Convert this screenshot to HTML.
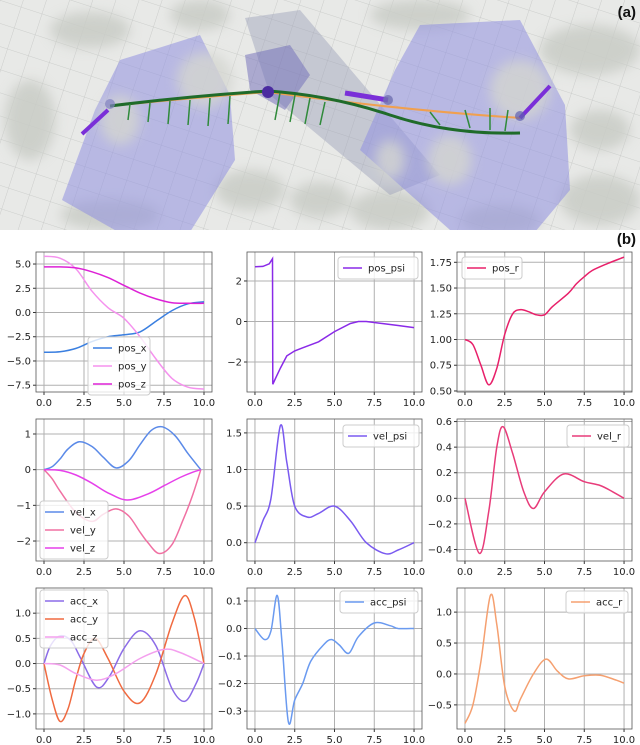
<!DOCTYPE html>
<html><head><meta charset="utf-8">
<style>
html,body{margin:0;padding:0;background:#fff;}
body{width:640px;height:745px;position:relative;overflow:hidden;font-family:"DejaVu Sans","Liberation Sans",sans-serif;}
#scene{position:absolute;left:0;top:0;width:640px;height:230px;overflow:hidden;background:#e4e5e3;}
#plots{position:absolute;left:0;top:0;}
.lbl{position:absolute;font-weight:bold;font-size:15px;font-family:"Liberation Sans",sans-serif;color:#111;}
</style></head><body>
<div id="scene">
<svg width="640" height="230">
<defs>
<pattern id="grid" width="22" height="22" patternUnits="userSpaceOnUse" patternTransform="rotate(18)">
<path d="M22 0L0 0 0 22" fill="none" stroke="#c4c6c4" stroke-width="0.8"/>
</pattern>
<filter id="blur"><feGaussianBlur stdDeviation="6"/></filter>
</defs>
<rect width="640" height="230" fill="#e8e9e7"/>
<rect width="640" height="230" fill="url(#grid)"/>
<g filter="url(#blur)" fill="#c9ccc6" opacity="0.85">
<ellipse cx="90" cy="30" rx="40" ry="18"/><ellipse cx="200" cy="15" rx="30" ry="15"/>
<ellipse cx="420" cy="15" rx="50" ry="15"/><ellipse cx="590" cy="50" rx="50" ry="25"/>
<ellipse cx="600" cy="200" rx="40" ry="25"/><ellipse cx="390" cy="210" rx="40" ry="20"/>
<ellipse cx="110" cy="215" rx="50" ry="15"/><ellipse cx="30" cy="120" rx="25" ry="40"/>
<ellipse cx="250" cy="190" rx="35" ry="20"/><ellipse cx="500" cy="220" rx="40" ry="15"/>
<ellipse cx="320" cy="200" rx="30" ry="18"/><ellipse cx="600" cy="130" rx="30" ry="20"/>
</g>
<g>
<polygon points="245,18 300,10 440,175 390,195 270,95" fill="#9b9fb8" opacity="0.45"/>
<polygon points="62,200 95,110 120,60 200,35 230,95 235,160 185,240 150,250" fill="#8f8fe0" opacity="0.55"/>
<polygon points="360,150 395,70 420,25 520,20 565,105 570,190 520,250 450,230" fill="#8f8fe0" opacity="0.55"/>
<polygon points="245,55 290,45 310,75 285,110 250,90" fill="#6e6ab8" opacity="0.5"/>
</g>
<g filter="url(#blur)" fill="#d4d6d0" opacity="0.8">
<ellipse cx="205" cy="80" rx="28" ry="28"/><ellipse cx="520" cy="90" rx="30" ry="30"/>
<ellipse cx="450" cy="160" rx="22" ry="25"/><ellipse cx="390" cy="160" rx="15" ry="20"/>
<ellipse cx="120" cy="120" rx="20" ry="25"/>
</g>
<g>
<path d="M110,106 Q190,98 268,92" stroke="#f0a050" stroke-width="2" fill="none"/>
<path d="M268,92 Q400,110 520,118" stroke="#f0a050" stroke-width="2" fill="none"/>
<path d="M110,106 Q190,96 268,91 Q330,95 390,115 Q450,135 520,133" stroke="#1f6b2a" stroke-width="3" fill="none"/>
<g stroke="#2f8a3a" stroke-width="1.5">
<line x1="130" y1="104" x2="128" y2="120"/><line x1="150" y1="103" x2="148" y2="122"/><line x1="170" y1="101" x2="168" y2="124"/><line x1="190" y1="100" x2="188" y2="125"/><line x1="210" y1="98" x2="208" y2="126"/><line x1="230" y1="96" x2="228" y2="124"/>
<line x1="280" y1="93" x2="275" y2="120"/><line x1="295" y1="95" x2="290" y2="122"/><line x1="310" y1="98" x2="305" y2="124"/><line x1="325" y1="102" x2="320" y2="125"/>
<line x1="440" y1="125" x2="430" y2="112"/><line x1="470" y1="128" x2="465" y2="110"/><line x1="490" y1="130" x2="490" y2="108"/><line x1="505" y1="131" x2="508" y2="110"/>
</g>
<line x1="108" y1="110" x2="82" y2="134" stroke="#7a2fd8" stroke-width="4"/>
<line x1="520" y1="118" x2="550" y2="86" stroke="#7a2fd8" stroke-width="4"/>
<line x1="388" y1="100" x2="345" y2="93" stroke="#7a2fd8" stroke-width="5"/>
<circle cx="268" cy="92" r="6" fill="#4a2aa0"/>
<circle cx="388" cy="100" r="5" fill="#7070b0" opacity="0.8"/>
<circle cx="110" cy="104" r="5" fill="#8080c0" opacity="0.7"/>
<circle cx="520" cy="116" r="5" fill="#6060b0" opacity="0.7"/>
</g>
</svg>
<div class="lbl" style="right:4px;top:4px">(a)</div>
</div>
<div class="lbl" style="right:4px;top:231px">(b)</div>
<svg id="plots" width="640" height="745"></svg>
<script>
// ---- data ----
const xTicks=[0,2.5,5,7.5,10];
const xTickLabels=["0.0","2.5","5.0","7.5","10.0"];

const posX_t=[0,1,2,3,4,5,6,7,8,9,10];
const posX_v=[-4.1,-4.05,-3.7,-3.0,-2.5,-2.3,-2.0,-0.9,0.2,0.9,1.1];
const posY_t=[0,1,2,3,4,5,6,7,8,9,10];
const posY_v=[5.8,5.6,4.5,2.2,0.5,-0.6,-2.5,-4.8,-6.8,-7.7,-7.9];
const posZ_t=[0,1,2,3,4,5,6,7,8,9,10];
const posZ_v=[4.7,4.7,4.6,4.2,3.6,2.8,2.0,1.4,1.0,0.95,0.95];
const posPsi_t=[0,0.5,0.9,1.1,1.12,1.3,1.6,2.0,2.5,3,4,5,6,6.5,7,8,9,10];
const posPsi_v=[2.7,2.72,2.85,3.1,-3.1,-2.8,-2.3,-1.7,-1.45,-1.3,-1.0,-0.5,-0.1,0.0,0.0,-0.1,-0.2,-0.3];
const posR_t=[0,0.5,1,1.5,2,2.5,3,3.5,4,4.5,5,5.5,6.5,7,7.5,8,9,10];
const posR_v=[1.0,0.95,0.75,0.56,0.72,1.05,1.25,1.29,1.27,1.24,1.24,1.32,1.45,1.54,1.61,1.67,1.74,1.8];

const velX_t=[0,0.5,1,1.5,2.2,3,3.7,4.5,5.3,6,6.7,7.4,8.2,9,9.8];
const velX_v=[0,0.08,0.3,0.58,0.78,0.65,0.35,0.05,0.25,0.7,1.1,1.2,0.95,0.45,0];
const velY_t=[0,0.5,1,2,3,3.7,4.5,5.3,6,6.5,7.2,8,8.7,9.3,9.8];
const velY_v=[0,-0.25,-0.6,-1.2,-1.45,-1.25,-1.1,-1.3,-1.75,-2.05,-2.35,-2.1,-1.4,-0.7,0];
const velZ_t=[0,1,2,3,4,5.2,6.5,7.5,8.5,9.3,9.8];
const velZ_v=[0,-0.02,-0.15,-0.38,-0.65,-0.85,-0.68,-0.45,-0.22,-0.07,0];
const velPsi_t=[0,0.5,1,1.6,2,2.5,3.3,4,5,6,7,8.2,9,10];
const velPsi_v=[0,0.3,0.6,1.6,1.1,0.5,0.35,0.4,0.5,0.3,0.0,-0.15,-0.1,0.0];
const velR_t=[0,0.9,1.5,2,2.4,3,3.7,4.3,5,6.2,7.5,8.5,9.3,10];
const velR_v=[0,-0.43,-0.1,0.4,0.56,0.35,0.05,-0.08,0.05,0.19,0.13,0.1,0.05,0];

const accX_t=[0,0.4,1,1.7,2.3,3.3,4.1,5,6,7,8,8.8,9.5,10];
const accX_v=[0,0.35,0.55,0.45,0.1,-0.47,-0.25,0.3,0.65,0.35,-0.5,-0.75,-0.4,0];
const accY_t=[0,0.5,1,1.5,2,2.5,3.2,4,5,6,7,8,8.8,9.4,10];
const accY_v=[0,-0.7,-1.15,-0.9,-0.3,0.2,0.5,0.1,-0.55,-0.78,-0.2,0.8,1.35,0.9,0];
const accZ_t=[0,1,2,3.3,4.5,6,7.5,8.5,10];
const accZ_v=[0,-0.03,-0.2,-0.33,-0.2,0.1,0.28,0.22,0];
const accPsi_t=[0,0.6,1,1.4,1.7,2.1,2.5,3,3.5,4.3,4.8,5.3,5.9,6.5,7.5,8.5,9,10];
const accPsi_v=[0,-0.04,-0.01,0.12,-0.05,-0.34,-0.26,-0.2,-0.12,-0.06,-0.04,-0.06,-0.09,-0.03,0.02,0.01,0,0];
const accR_t=[0,0.5,1,1.6,2,2.5,3.1,3.5,4.3,5.1,5.8,6.5,7.5,8.5,9.5,10];
const accR_v=[-0.8,-0.5,0.2,1.27,0.8,-0.2,-0.6,-0.4,0.0,0.24,0.05,-0.08,-0.03,-0.02,-0.1,-0.15];

const yTicks_pos=[-7.5,-5,-2.5,0,2.5,5];
const yTicks_psi=[-2,0,2];
const yTicks_r=[0.5,0.75,1.0,1.25,1.5,1.75];
const yTicks_vel=[-2,-1,0,1];
const yTicks_velPsi=[0,0.5,1.0,1.5];
const yTicks_velR=[-0.4,-0.2,0,0.2,0.4,0.6];
const yTicks_acc=[-1,-0.5,0,0.5,1];
const yTicks_accPsi=[-0.3,-0.2,-0.1,0,0.1];
const yTicks_accR=[-0.5,0,0.5,1];

// ---- layout ----
const cols=[[36,212],[247,422],[457,632]];
const rows=[[252,392],[419,561],[588,729]];
const panels=[
 {name:'pos-xyz-plot',c:0,r:0,ymin:-8.2,ymax:6.24,yt:yTicks_pos,dec:1,series:[['pos_x',posX_t,posX_v,'#3a7fe0'],['pos_y',posY_t,posY_v,'#f592ee'],['pos_z',posZ_t,posZ_v,'#dd22d6']],leg:[88,337,62]},
 {name:'pos-psi-plot',c:1,r:0,ymin:-3.48,ymax:3.43,yt:yTicks_psi,dec:0,series:[['pos_psi',posPsi_t,posPsi_v,'#8a2ae8',true]],leg:[338,257,80]},
 {name:'pos-r-plot',c:2,r:0,ymin:0.49,ymax:1.85,yt:yTicks_r,dec:2,series:[['pos_r',posR_t,posR_v,'#e8206a']],leg:[462,257,60]},
 {name:'vel-xyz-plot',c:0,r:1,ymin:-2.56,ymax:1.42,yt:yTicks_vel,dec:0,series:[['vel_x',velX_t,velX_v,'#5b8ae8'],['vel_y',velY_t,velY_v,'#f070a2'],['vel_z',velZ_t,velZ_v,'#e640ea']],leg:[40,501,68]},
 {name:'vel-psi-plot',c:1,r:1,ymin:-0.25,ymax:1.69,yt:yTicks_velPsi,dec:1,series:[['vel_psi',velPsi_t,velPsi_v,'#7a5af0']],leg:[343,425,76]},
 {name:'vel-r-plot',c:2,r:1,ymin:-0.49,ymax:0.62,yt:yTicks_velR,dec:1,series:[['vel_r',velR_t,velR_v,'#e83c7a']],leg:[567,425,62]},
 {name:'acc-xyz-plot',c:0,r:2,ymin:-1.3,ymax:1.5,yt:yTicks_acc,dec:1,series:[['acc_x',accX_t,accX_v,'#8c6ce8'],['acc_y',accY_t,accY_v,'#f06a40'],['acc_z',accZ_t,accZ_v,'#f4a0ee']],leg:[40,590,68]},
 {name:'acc-psi-plot',c:1,r:2,ymin:-0.365,ymax:0.147,yt:yTicks_accPsi,dec:1,series:[['acc_psi',accPsi_t,accPsi_v,'#6a9af0']],leg:[340,591,78]},
 {name:'acc-r-plot',c:2,r:2,ymin:-0.89,ymax:1.39,yt:yTicks_accR,dec:1,series:[['acc_r',accR_t,accR_v,'#f5a070']],leg:[566,591,62]}
];
const NS='http://www.w3.org/2000/svg';
const svg=document.getElementById('plots');
function mk(tag,attrs,parent){const e=document.createElementNS(NS,tag);for(const k in attrs)e.setAttribute(k,attrs[k]);(parent||svg).appendChild(e);return e;}
function fmt(v,d){let s=Math.abs(v).toFixed(d);return (v<-1e-9?'\u2212':'')+s;}
function smoothPath(pts){
 let d='M'+pts[0][0].toFixed(1)+','+pts[0][1].toFixed(1);
 for(let i=0;i<pts.length-1;i++){
  const p0=pts[Math.max(0,i-1)],p1=pts[i],p2=pts[i+1],p3=pts[Math.min(pts.length-1,i+2)];
  const c1=[p1[0]+(p2[0]-p0[0])/6,p1[1]+(p2[1]-p0[1])/6];
  const c2=[p2[0]-(p3[0]-p1[0])/6,p2[1]-(p3[1]-p1[1])/6];
  d+=' C'+c1[0].toFixed(1)+','+c1[1].toFixed(1)+' '+c2[0].toFixed(1)+','+c2[1].toFixed(1)+' '+p2[0].toFixed(1)+','+p2[1].toFixed(1);
 }
 return d;
}
panels.forEach(p=>{
 const [x0,x1]=cols[p.c],[y0,y1]=rows[p.r];
 const w=x1-x0,pad=w*0.05/1.1;
 const sx=t=>x0+pad+(t/10)*(w-2*pad);
 const sy=v=>y1-(v-p.ymin)/(p.ymax-p.ymin)*(y1-y0);
 const g=mk('g',{});
 
 
 mk('rect',{x:x0,y:y0,width:w,height:y1-y0,fill:'#fff'},g);
 xTicks.forEach((t,i)=>{
  const x=sx(t);
  const gl=mk('line',{x1:x,x2:x,y1:y0,y2:y1,stroke:'#b0b0b0','stroke-width':1},g);
  
  
  mk('line',{x1:x,x2:x,y1:y1,y2:y1+3,stroke:'#333'},g);
  const tx=mk('text',{x:x,y:y1+14,'text-anchor':'middle','font-size':10,fill:'#222'},g);
  tx.textContent=xTickLabels[i];
  
  
 });
 p.yt.forEach(v=>{
  const y=sy(v);
  const gl=mk('line',{x1:x0,x2:x1,y1:y,y2:y,stroke:'#b0b0b0','stroke-width':1},g);
  
  
  mk('line',{x1:x0-3,x2:x0,y1:y,y2:y,stroke:'#333'},g);
  const tx=mk('text',{x:x0-5,y:y+3.5,'text-anchor':'end','font-size':10,fill:'#222'},g);
  tx.textContent=fmt(v,p.dec);
  
  
 });
 mk('rect',{x:x0,y:y0,width:w,height:y1-y0,fill:'none',stroke:'#555','stroke-width':0.8},g);
 p.series.forEach(s=>{
  const pts=s[1].map((t,i)=>[sx(t),sy(s[2][i])]);
  const d=s[4]?'M'+pts.map(q=>q[0].toFixed(1)+','+q[1].toFixed(1)).join(' L'):smoothPath(pts);
  const path=mk('path',{d:d,fill:'none',stroke:s[3],'stroke-width':1.5},g);
  
  
 });
 const [lx,ly,lw]=p.leg,n=p.series.length,lh=n*18+4;
 const lg=mk('g',{},g);
 
 
 mk('rect',{x:lx,y:ly,width:lw,height:lh,rx:3,fill:'#fff','fill-opacity':0.8,stroke:'#ccc'},lg);
 p.series.forEach((s,i)=>{
  const yy=ly+11+i*18;
  mk('line',{x1:lx+5,x2:lx+24,y1:yy,y2:yy,stroke:s[3],'stroke-width':1.6},lg);
  const tx=mk('text',{x:lx+30,y:yy+3.5,'font-size':10,fill:'#222'},lg);
  tx.textContent=s[0];
  
  
 });
});
</script>
</body></html>
